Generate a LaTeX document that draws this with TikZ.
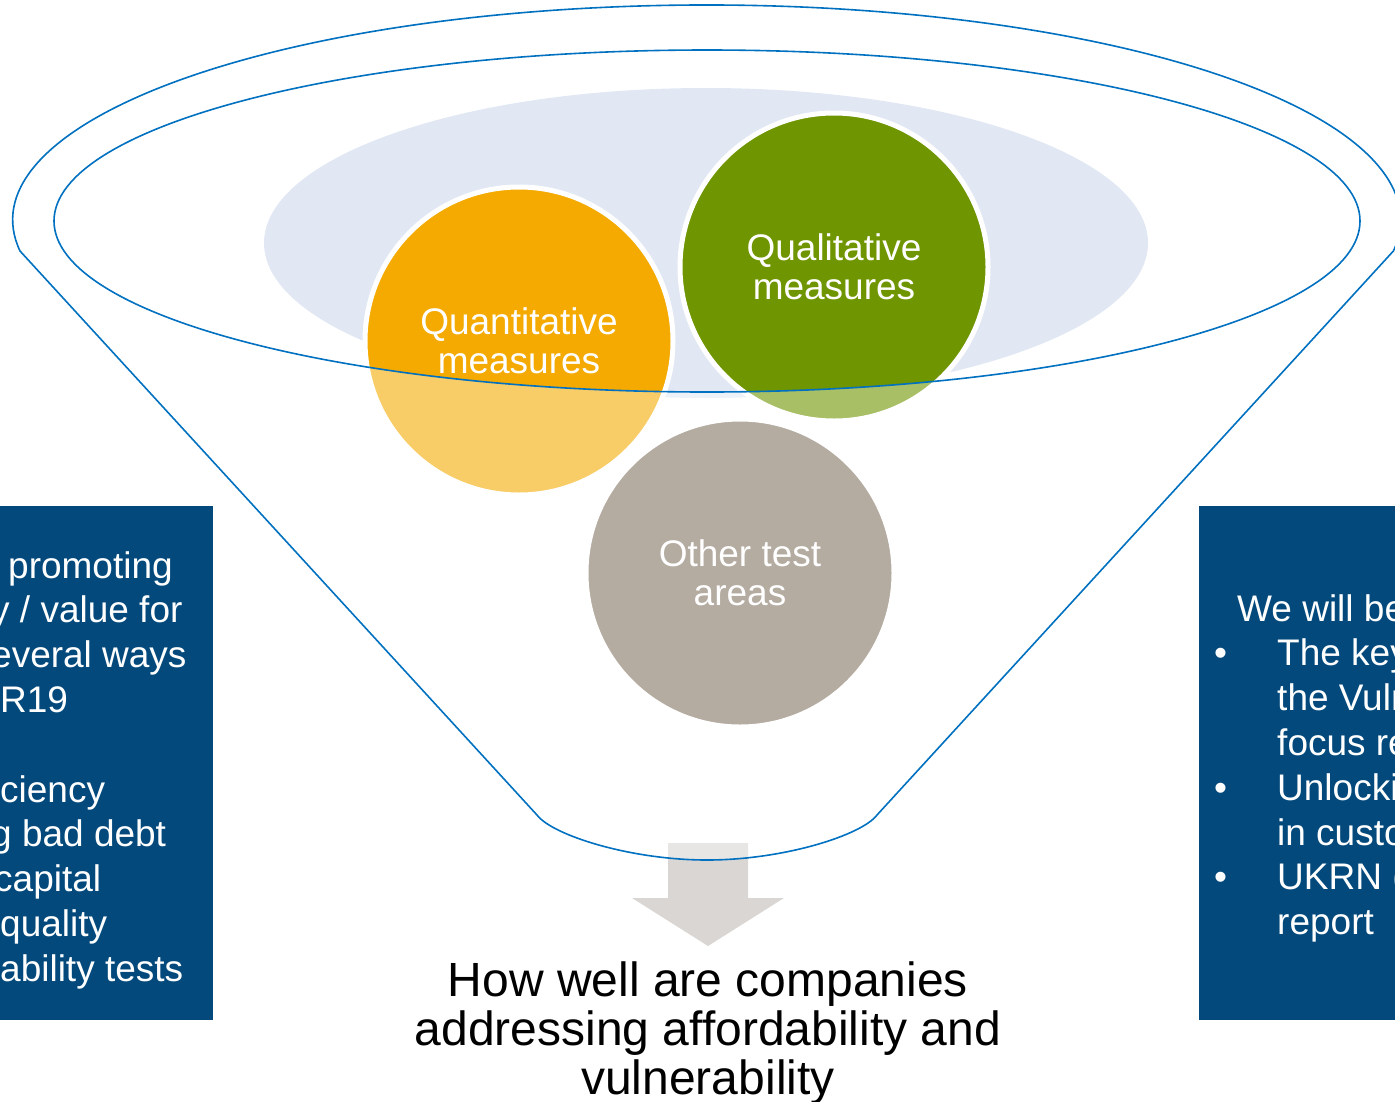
\documentclass[tikz,border=0pt]{standalone}
\usepackage{fontspec}
\setmainfont{Liberation Sans}
\usepackage{tikz}
\usetikzlibrary{positioning}

\definecolor{quantorange}{HTML}{F4AA00}
\definecolor{qualgreen}{HTML}{6F9500}
\definecolor{othergrey}{HTML}{B4ABA1}
\definecolor{mouthblue}{HTML}{E1E8F4}
\definecolor{rimblue}{HTML}{0070C0}
\definecolor{panelblue}{HTML}{03497C}
\definecolor{arrowgrey}{HTML}{D9D6D3}

\begin{document}
\begin{tikzpicture}[
  x=1pt,y=-1pt,
  bubble/.style={circle,draw=white,line width=5pt,minimum size=308pt,inner sep=0pt,
                 align=center,text=white,font=\fontsize{37}{39}\selectfont},
  paneltext/.style={anchor=north west,inner sep=0pt,align=left,text=white,
                    font=\fontsize{37}{44.8}\selectfont},
  rim/.style={draw=rimblue,line width=1.6pt},
]
  \useasboundingbox (0,0) rectangle (1395,1101);

  % mouth of the funnel and the two upper bubbles
  \fill[mouthblue] (706,243) ellipse [x radius=442pt, y radius=155pt];
  \node[bubble,fill=quantorange] (quant) at (519,341) {Quantitative\\measures};
  \node[bubble,fill=qualgreen] (qual) at (834,267) {Qualitative\\measures};

  \fill[arrowgrey] (668,843) -- (748,843) -- (748,898) -- (784,898)
    -- (708,946) coordinate (tip) -- (632,898) -- (668,898) -- cycle;

  % funnel body, lightly washed over what lies behind it
  \path[rim,fill=white,fill opacity=0.4,even odd rule]
    (20,251) arc[start angle=188.3, end angle=-8.3, x radius=694pt, y radius=215pt]
    -- (877,815) .. controls (862,835) and (784,860) .. (707,860)
    .. controls (630,860) and (552,835) .. (537,815) -- cycle
    (707,221) ellipse [x radius=653pt, y radius=171pt];

  \node[bubble,fill=othergrey] (other) at (740,573) {Other test\\areas};

  % side panels
  \fill[panelblue] (-10,506) rectangle (213,1020);
  \fill[panelblue] (1199,506) rectangle (1405,1020);
  \node[paneltext] (lefttext) at (0,551) {%
    \hspace*{8pt}promoting\\
    \hspace*{-9pt}y / value for\\
    \hspace*{-9pt}everal ways\\
    R19\\[44.8pt]
    ciency\\
    \hspace*{-9pt}g bad debt\\
    \hspace*{-6pt}capital\\
    quality\\
    ability tests};
  \node[paneltext] (righttext) at (1214,594) {%
    \hspace*{23pt}We will be\\
    \makebox[63pt][l]{\textbullet}The key\\
    \hspace*{63pt}the Vuln\\
    \hspace*{63pt}focus re\\
    \makebox[63pt][l]{\textbullet}Unlocki\\
    \hspace*{63pt}in custo\\
    \makebox[63pt][l]{\textbullet}UKRN (\\
    \hspace*{63pt}report};

  \node[below=16pt of tip,inner sep=0pt,align=center,
        font=\fontsize{48}{49}\selectfont] (question)
    {How well are companies\\addressing affordability and\\vulnerability};
\end{tikzpicture}
\end{document}
